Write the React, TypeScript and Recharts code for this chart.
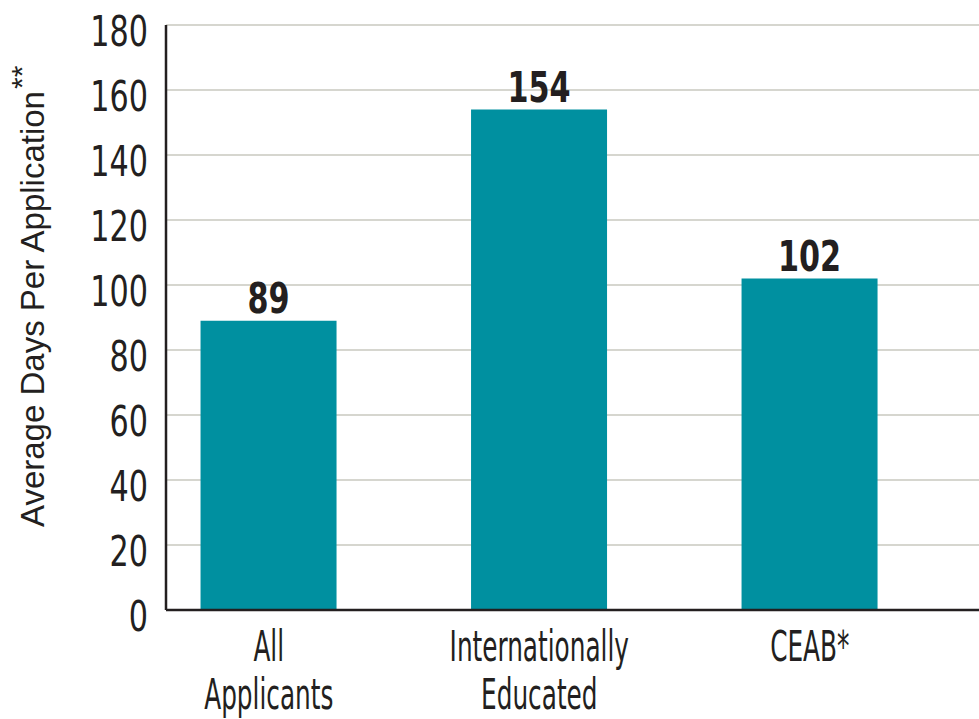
import React from 'react';
import { BarChart, Bar, XAxis, YAxis, CartesianGrid, LabelList } from 'recharts';

// chart values
const categoryLines: string[][] = [['All', 'Applicants'], ['Internationally', 'Educated'], ['CEAB*']];
const avgDays: number[] = [89, 154, 102];
const yTicks: number[] = [0, 20, 40, 60, 80, 100, 120, 140, 160, 180];
const yAxisTitle = 'Average Days Per Application';
const yAxisTitleNote = '**';

const data = avgDays.map((v, i) => ({ pos: i, value: v }));

// no narrow font installed, so squeeze the condensed one horizontally
const NARROW = "'Liberation Sans Narrow', 'DejaVu Sans Condensed', sans-serif";
const REGULAR = "'Liberation Sans', Arial, sans-serif";
const INK = '#231f20';

const YTick = (props: any) => {
  const { x, y, payload } = props;
  return (
    <text
      transform={`translate(${x},${y + 21}) scale(0.8,1)`}
      textAnchor="end"
      fontFamily={NARROW}
      fontSize={42}
      fill={INK}
    >
      {payload.value}
    </text>
  );
};

const XTick = (props: any) => {
  const { x, y, payload } = props;
  const lines = categoryLines[payload.value] || [];
  return (
    <g transform={`translate(${x},${y}) scale(0.64,1)`}>
      {lines.map((l, i) => (
        <text key={i} x={0} y={51 + i * 48} textAnchor="middle" fontFamily={NARROW} fontSize={43} fill={INK}>
          {l}
        </text>
      ))}
    </g>
  );
};

const ValueLabel = (props: any) => {
  const { x, y, width, value } = props;
  return (
    <text
      transform={`translate(${x + width / 2},${y - 8}) scale(0.8,1)`}
      textAnchor="middle"
      fontFamily={NARROW}
      fontSize={42}
      fontWeight="bold"
      fill={INK}
    >
      {value}
    </text>
  );
};

const YTitle = () => (
  <text transform="translate(44,527) rotate(-90)" fontFamily={REGULAR} fontSize={33} fill={INK}>
    {yAxisTitle}
    <tspan dx={2} dy={-12} fontSize={30}>{yAxisTitleNote}</tspan>
  </text>
);

const App: React.FC = () => {
  return (
    <div style={{ position: 'absolute', left: 0, top: 0, background: '#fff' }}>
      <BarChart width={979} height={719} data={data} margin={{ top: 25, right: 0, bottom: 0, left: 0 }}>
        <CartesianGrid vertical={false} stroke="#c9c9bf" strokeWidth={1.5} />
        <XAxis
          type="number"
          dataKey="pos"
          domain={[-0.38, 2.6255]}
          ticks={[0, 1, 2]}
          allowDataOverflow
          height={109}
          tickLine={false}
          tickSize={0}
          tickMargin={0}
          tick={<XTick />}
          axisLine={{ stroke: INK, strokeWidth: 2.5 }}
        />
        <YAxis
          domain={[0, 180]}
          ticks={yTicks}
          width={166}
          tickLine={false}
          tickSize={0}
          tickMargin={18}
          tick={<YTick />}
          axisLine={{ stroke: INK, strokeWidth: 2.5 }}
          label={{ content: <YTitle /> }}
        />
        <Bar dataKey="value" fill="#0090a0" barSize={136} isAnimationActive={false}>
          <LabelList dataKey="value" content={<ValueLabel />} />
        </Bar>
      </BarChart>
    </div>
  );
};

export default App;
